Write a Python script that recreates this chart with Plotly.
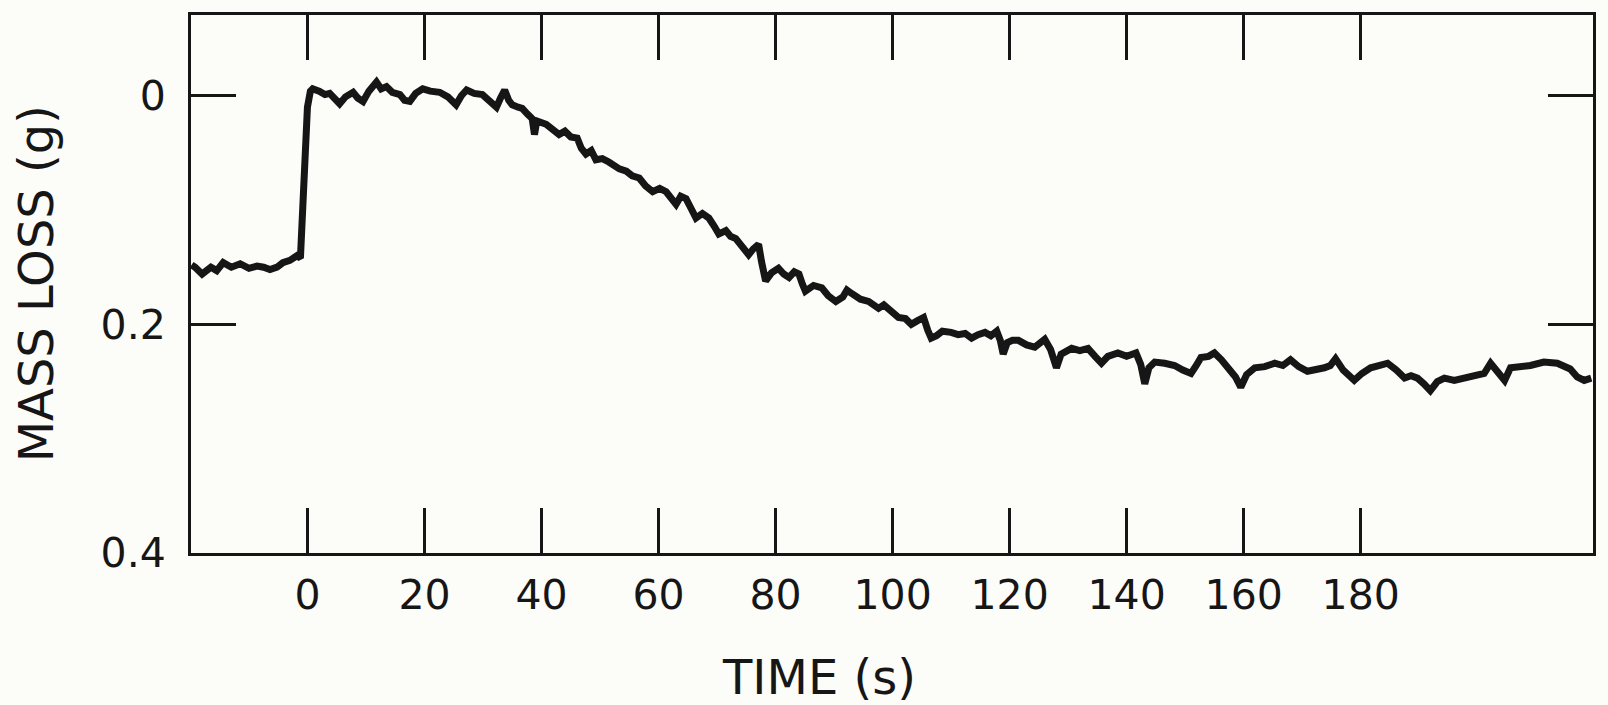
import plotly.graph_objects as go

time_s = [
    -19.8, -19.2, -18.0, -16.5, -15.5, -14.4, -13.0, -11.5, -10.0, -8.6, -7.5, -6.4, -5.2, -4.2, -3.0, -1.8, -1.2, -0.6,
    0.0, 0.5, 0.9, 2.0, 3.0, 3.8, 4.7, 5.5, 6.5, 7.8, 8.6, 9.5, 10.5, 11.8, 12.6, 13.5, 14.5, 15.8, 16.6, 17.5, 18.5, 19.7,
    21.0, 22.6, 24.0, 25.4, 26.3, 27.2, 28.5, 29.9, 31.0, 32.3, 33.0, 33.7, 34.4, 35.0, 36.0, 36.7, 37.6, 38.4, 38.8, 39.2,
    40.8, 42.0, 43.0, 44.0, 45.0, 46.1, 46.8, 47.6, 48.5, 49.3, 50.4, 51.5, 52.4, 53.3, 54.5, 55.5, 56.7, 57.8, 59.0,
    60.2, 61.3, 62.2, 63.0, 63.8, 64.7, 65.5, 66.4, 67.5, 68.6, 69.5, 70.3, 71.5, 72.3, 73.2, 74.3, 75.4, 76.2, 77.1, 77.6,
    78.3, 79.3, 80.5, 81.4, 82.3, 83.2, 84.0, 84.6, 85.1, 86.5, 87.9, 89.0, 90.3, 91.5, 92.2, 93.0, 94.5, 95.9, 96.8, 97.6,
    98.5, 99.8, 101.0, 102.2, 103.2, 104.2, 105.3, 106.0, 106.6, 107.5, 108.5, 110.0, 111.2, 112.4, 113.5, 114.6, 115.8,
    116.8, 117.8, 118.4, 118.9, 119.6, 120.5, 121.5, 122.9, 124.3, 125.2, 126.0, 127.0, 128.0, 128.8, 130.6, 132.0, 133.4,
    134.6, 135.7, 136.8, 138.5, 140.0, 141.6, 142.4, 143.1, 143.8, 144.8, 146.5, 148.2, 149.6, 151.0, 151.9, 152.7, 154.0,
    155.0, 156.2, 157.3, 158.6, 159.5, 160.5, 161.9, 163.6, 165.3, 166.7, 168.0, 169.4, 170.9, 172.3, 173.8, 174.8, 175.7,
    177.0, 178.9, 180.2, 181.7, 183.1, 184.6, 186.1, 187.5, 188.6, 189.7, 190.8, 191.9, 193.1, 194.3, 196.0, 197.7, 199.4,
    201.1, 202.2, 203.3, 204.6, 205.6, 207.3, 209.0, 211.3, 213.6, 215.8, 217.0, 218.2, 219.4,
]

mass_loss_g = [
    0.148, 0.150, 0.156, 0.150, 0.153, 0.146, 0.150, 0.147, 0.151, 0.149, 0.150, 0.152, 0.150, 0.146, 0.144, 0.140, 0.142, 0.080,
    0.010, -0.004, -0.006, -0.004, -0.001, -0.002, 0.003, 0.007, 0.001, -0.003, 0.002, 0.005, -0.004, -0.012, -0.006, -0.008, -0.003, -0.001, 0.004, 0.005, -0.002, -0.006,
    -0.004, -0.003, 0.001, 0.008, 0.000, -0.005, -0.002, -0.001, 0.004, 0.010, 0.002, -0.005, 0.004, 0.008, 0.010, 0.011, 0.016, 0.020, 0.034, 0.022,
    0.025, 0.030, 0.034, 0.031, 0.036, 0.037, 0.046, 0.051, 0.048, 0.056, 0.055, 0.058, 0.062, 0.064, 0.066, 0.070, 0.072, 0.079, 0.084,
    0.081, 0.084, 0.091, 0.095, 0.088, 0.090, 0.098, 0.107, 0.103, 0.107, 0.114, 0.121, 0.118, 0.123, 0.125, 0.131, 0.139, 0.134, 0.130, 0.145,
    0.162, 0.155, 0.151, 0.156, 0.159, 0.154, 0.156, 0.165, 0.171, 0.166, 0.168, 0.175, 0.180, 0.176, 0.170, 0.173, 0.178, 0.180, 0.183, 0.186,
    0.183, 0.188, 0.194, 0.195, 0.200, 0.197, 0.194, 0.205, 0.212, 0.210, 0.206, 0.207, 0.209, 0.208, 0.212, 0.209, 0.207,
    0.210, 0.206, 0.214, 0.226, 0.216, 0.214, 0.214, 0.218, 0.220, 0.216, 0.213, 0.222, 0.238, 0.226, 0.221, 0.223, 0.221,
    0.228, 0.234, 0.228, 0.225, 0.228, 0.225, 0.235, 0.252, 0.238, 0.233, 0.234, 0.236, 0.240, 0.243, 0.236, 0.229, 0.228,
    0.225, 0.231, 0.238, 0.246, 0.255, 0.244, 0.238, 0.237, 0.234, 0.236, 0.231, 0.237, 0.241, 0.240, 0.238, 0.236, 0.230,
    0.240, 0.249, 0.243, 0.238, 0.236, 0.234, 0.240, 0.247, 0.245, 0.247, 0.252, 0.258, 0.250, 0.247, 0.249, 0.247, 0.246,
    0.243, 0.234, 0.240, 0.249, 0.238, 0.237, 0.236, 0.233, 0.234, 0.239, 0.246, 0.249, 0.247,
]

x_ticks = [0, 20, 40, 60, 80, 100, 120, 140, 160, 180]
x_tick_text = ["0", "20", "40", "60", "80", "100", "120", "140", "160", "180"]
y_ticks = [0, 0.2, 0.4]
y_tick_text = ["0", "0.2", "0.4"]

INK = "#161616"
BG = "#fcfcf9"
FONT = "DejaVu Sans"

fig = go.Figure()
fig.add_trace(go.Scatter(
    x=time_s, y=mass_loss_g, mode="lines",
    line=dict(color=INK, width=7),
    showlegend=False, hoverinfo="skip",
))

fig.update_layout(
    width=1608, height=705,
    margin=dict(l=191, r=12, t=13, b=152),
    paper_bgcolor=BG, plot_bgcolor=BG,
    font=dict(family=FONT, color=INK, size=41),
    xaxis=dict(
        range=[-19.9, 219.7], tickvals=x_ticks, ticktext=x_tick_text,
        ticks="inside", ticklen=45, tickwidth=3, tickcolor=INK,
        showline=True, linewidth=3, linecolor=INK, mirror="ticks",
        showgrid=False, zeroline=False,
        tickfont=dict(family=FONT, size=41, color=INK),
        ticklabelstandoff=4,
    ),
    yaxis=dict(
        range=[0.4, -0.0706], tickvals=y_ticks, ticktext=y_tick_text,
        ticks="inside", ticklen=45, tickwidth=3, tickcolor=INK,
        showline=True, linewidth=3, linecolor=INK, mirror="ticks",
        showgrid=False, zeroline=False,
        tickfont=dict(family=FONT, size=41, color=INK),
        ticklabelstandoff=14,
    ),
    annotations=[
        dict(text="TIME (s)", xref="paper", yref="paper", x=0.4477, y=-0.2296,
             xanchor="center", yanchor="middle", showarrow=False,
             font=dict(family=FONT, size=48, color=INK)),
        dict(text="MASS LOSS (g)", xref="paper", yref="paper", x=-0.1103, y=0.5,
             xanchor="center", yanchor="middle", showarrow=False, textangle=-90,
             font=dict(family=FONT, size=48, color=INK)),
    ],
)

fig.write_html("out.html", config={"displayModeBar": False},
               post_script="document.body.style.margin='0';document.body.style.overflow='hidden';")
